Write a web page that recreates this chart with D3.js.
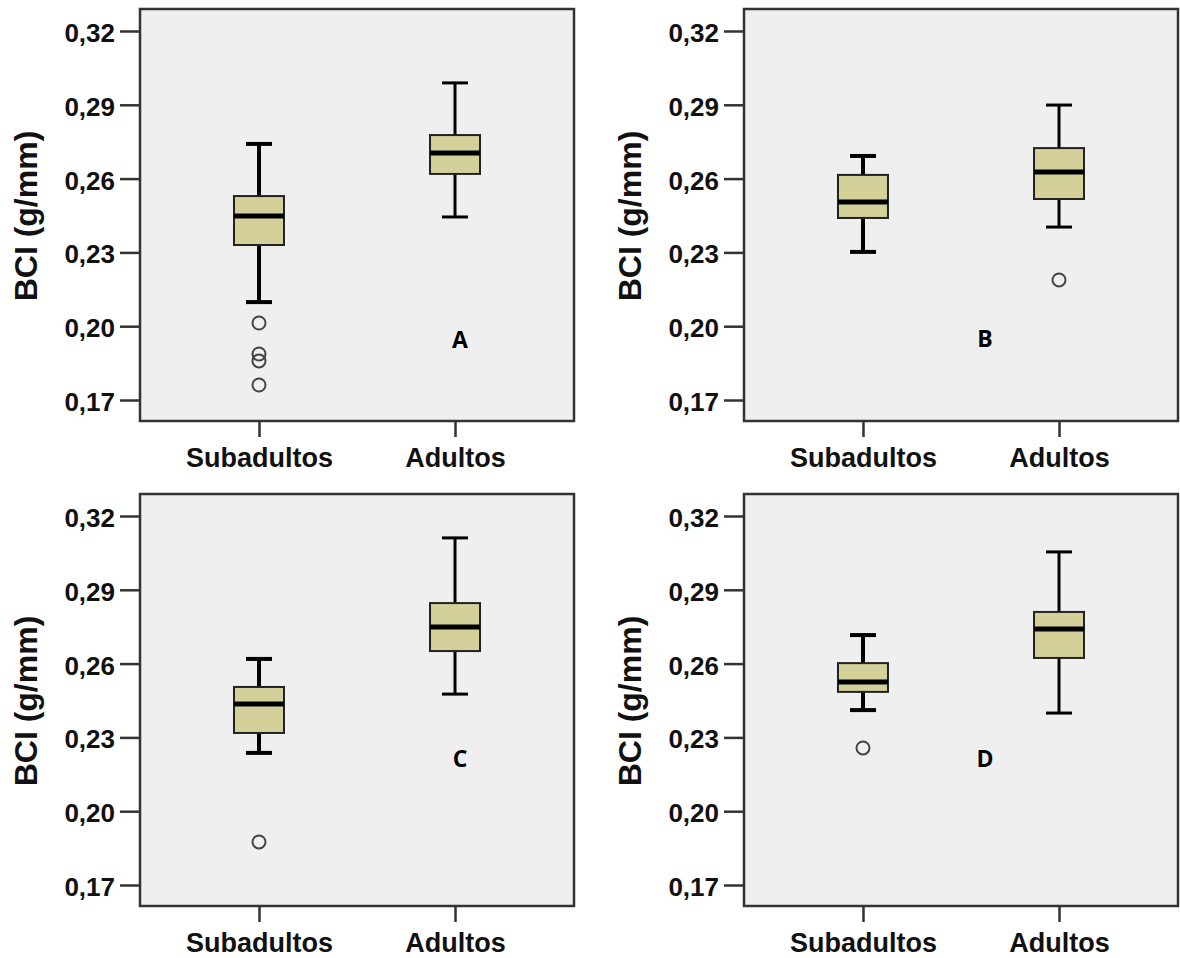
<!DOCTYPE html>
<html>
<head>
<meta charset="utf-8">
<script src="https://cdn.jsdelivr.net/npm/d3@7"></script>
<style>
  body { margin: 0; background: #fff; }
  svg { display: block; }
</style>
</head>
<body>
<div id="chart"></div>
<script>
// categories and axis ticks
const categories = ['Subadultos', 'Adultos'];
const yTicks = [0.17, 0.20, 0.23, 0.26, 0.29, 0.32];
const panelLetters = ['A', 'B', 'C', 'D'];

// box summaries per panel: [lower whisker, q1, median, q3, upper whisker]
const statsA = [[0.2098, 0.2330, 0.2448, 0.2529, 0.2741], [0.2444, 0.2619, 0.2704, 0.2777, 0.2989]];
const statsB = [[0.2302, 0.2440, 0.2505, 0.2615, 0.2692], [0.2403, 0.2517, 0.2627, 0.2724, 0.2899]];
const statsC = [[0.2237, 0.2318, 0.2436, 0.2505, 0.2619], [0.2476, 0.2651, 0.2749, 0.2846, 0.3111]];
const statsD = [[0.2411, 0.2485, 0.2525, 0.2602, 0.2716], [0.2399, 0.2623, 0.2741, 0.2810, 0.3054]];

// outliers per panel, per category
const outliersA = [[0.2013, 0.1887, 0.1859, 0.1761], []];
const outliersB = [[], [0.2188]];
const outliersC = [[0.1875], []];
const outliersD = [[0.2257], []];

const allStats = [statsA, statsB, statsC, statsD];
const allOutliers = [outliersA, outliersB, outliersC, outliersD];

// layout
const width = 1180, height = 958;
const W = 434, H = 412;
const origins = [[140, 9], [744, 9], [140, 494], [744, 494]];
const letterPos = [[320, 339], [241, 338], [320, 273], [241, 273]];

const svg = d3.select('#chart').append('svg')
  .attr('width', width)
  .attr('height', height);

svg.append('rect').attr('width', width).attr('height', height).attr('fill', '#fff');

const y = d3.scaleLinear().domain([0.17, 0.32]).range([391, 22]);
const x = d3.scalePoint().domain(categories).range([0, W]).padding(0.607);

const fmt = d => d3.format('.2f')(d).replace('.', ',');

allStats.forEach((stats, p) => {
  const g = svg.append('g')
    .attr('transform', `translate(${origins[p][0]}, ${origins[p][1]})`);

  // plot area
  g.append('rect')
    .attr('width', W)
    .attr('height', H)
    .attr('fill', '#efefef')
    .attr('stroke', '#333')
    .attr('stroke-width', 2.5);

  // y axis
  const yAxis = g.append('g')
    .call(d3.axisLeft(y).tickValues(yTicks).tickSize(20).tickPadding(5).tickFormat(fmt));
  yAxis.select('.domain').remove();
  yAxis.selectAll('line').attr('stroke', '#333').attr('stroke-width', 2.5);
  yAxis.selectAll('text')
    .attr('fill', '#111')
    .style('font-family', '"Liberation Sans", Arial, sans-serif')
    .style('font-weight', 'bold')
    .style('font-size', '26px')
    .attr('dy', '0.4em');

  // x axis
  const xAxis = g.append('g')
    .attr('transform', `translate(0, ${H})`)
    .call(d3.axisBottom(x).tickSize(16).tickPadding(11));
  xAxis.select('.domain').remove();
  xAxis.selectAll('line').attr('stroke', '#333').attr('stroke-width', 2.5);
  xAxis.selectAll('text')
    .attr('fill', '#111')
    .style('font-family', '"Liberation Sans", Arial, sans-serif')
    .style('font-weight', 'bold')
    .style('font-size', '27px');

  // y axis title
  g.append('text')
    .attr('transform', `translate(${37 - origins[p][0] + (p % 2) * 604}, ${H / 2 + 1}) rotate(-90)`)
    .attr('text-anchor', 'middle')
    .attr('fill', '#111')
    .style('font-family', '"Liberation Sans", Arial, sans-serif')
    .style('font-weight', 'bold')
    .style('font-size', '32px')
    .text('BCI (g/mm)');

  // boxes
  const boxes = g.selectAll('.box')
    .data(stats.map((s, i) => ({ cat: categories[i], s, out: allOutliers[p][i], i })))
    .join('g')
    .attr('class', 'box');

  boxes.each(function (d) {
    const b = d3.select(this);
    const cx = x(d.cat);
    const [lo, q1, med, q3, hi] = d.s;
    const ww = d.i === 0 ? 4 : 3;

    b.append('line')
      .attr('x1', cx).attr('x2', cx)
      .attr('y1', y(hi)).attr('y2', y(q3))
      .attr('stroke', '#000').attr('stroke-width', ww);
    b.append('line')
      .attr('x1', cx).attr('x2', cx)
      .attr('y1', y(q1)).attr('y2', y(lo))
      .attr('stroke', '#000').attr('stroke-width', ww);
    [hi, lo].forEach(v => {
      b.append('line')
        .attr('x1', cx - 13).attr('x2', cx + 13)
        .attr('y1', y(v)).attr('y2', y(v))
        .attr('stroke', '#000').attr('stroke-width', ww);
    });

    b.append('rect')
      .attr('x', cx - 25)
      .attr('width', 50)
      .attr('y', y(q3))
      .attr('height', y(q1) - y(q3))
      .attr('fill', '#d4d09a')
      .attr('stroke', '#222')
      .attr('stroke-width', 2);

    b.append('line')
      .attr('x1', cx - 25).attr('x2', cx + 25)
      .attr('y1', y(med)).attr('y2', y(med))
      .attr('stroke', '#000').attr('stroke-width', 5);

    b.selectAll('circle')
      .data(d.out)
      .join('circle')
      .attr('cx', cx)
      .attr('cy', v => y(v))
      .attr('r', 6.5)
      .attr('fill', 'none')
      .attr('stroke', '#444')
      .attr('stroke-width', 2);
  });

  // panel letter
  g.append('text')
    .attr('x', letterPos[p][0])
    .attr('y', letterPos[p][1])
    .attr('text-anchor', 'middle')
    .attr('fill', '#000')
    .style('font-family', '"Open Sans", sans-serif')
    .style('font-weight', 'bold')
    .style('font-size', '23px')
    .text(panelLetters[p]);
});
</script>
</body>
</html>
